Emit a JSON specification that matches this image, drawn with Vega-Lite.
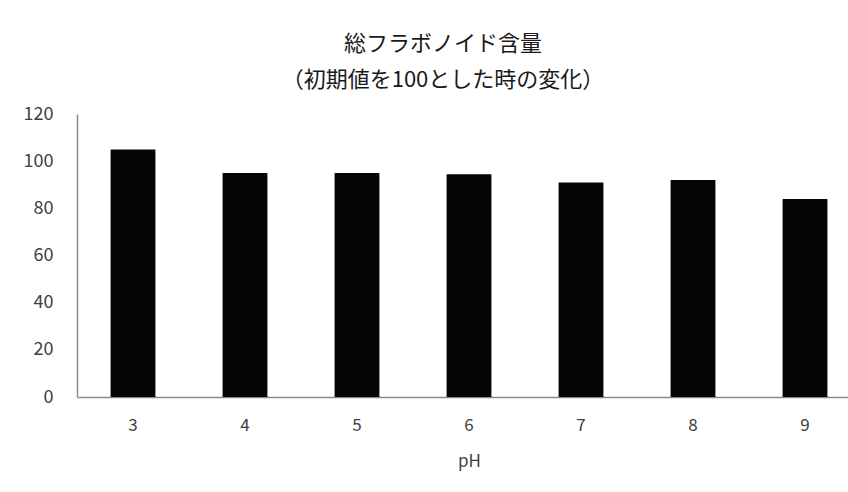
{
  "$schema": "https://vega.github.io/schema/vega-lite/v6.json",
  "autosize": {"type": "none"},
  "width": 784,
  "height": 283,
  "padding": {"left": 77, "top": 114, "right": 0, "bottom": 95},
  "background": "white",
  "title": {
    "text": ["総フラボノイド含量", "（初期値を100とした時の変化）"],
    "font": "Noto Sans CJK JP",
    "fontSize": 22,
    "fontWeight": "normal",
    "color": "#1a1a1a",
    "anchor": "middle",
    "dx": -26,
    "offset": 13,
    "lineHeight": 36
  },
  "data": {
    "values": [
      {"pH": "3", "value": 105},
      {"pH": "4", "value": 95},
      {"pH": "5", "value": 95},
      {"pH": "6", "value": 94.5},
      {"pH": "7", "value": 91},
      {"pH": "8", "value": 92},
      {"pH": "9", "value": 84}
    ]
  },
  "mark": {"type": "bar", "color": "#050505"},
  "encoding": {
    "x": {
      "field": "pH",
      "type": "ordinal",
      "sort": null,
      "scale": {"paddingInner": 0.6, "paddingOuter": 0.3},
      "axis": {
        "title": "pH",
        "labelAngle": 0,
        "labelFont": "Noto Sans CJK JP",
        "labelFontSize": 17,
        "labelColor": "#404040",
        "labelPadding": 20,
        "ticks": false,
        "domainColor": "#8c8c8c",
        "domainWidth": 1.5,
        "titleFont": "Noto Sans CJK JP",
        "titleFontSize": 17,
        "titleFontWeight": "normal",
        "titleColor": "#404040",
        "titlePadding": 20
      }
    },
    "y": {
      "field": "value",
      "type": "quantitative",
      "scale": {"domain": [0, 120]},
      "axis": {
        "title": null,
        "values": [0, 20, 40, 60, 80, 100, 120],
        "grid": false,
        "ticks": false,
        "labelFont": "Noto Sans CJK JP",
        "labelFontSize": 18,
        "labelColor": "#404040",
        "labelPadding": 24,
        "domainColor": "#8c8c8c",
        "domainWidth": 1.5
      }
    }
  },
  "config": {"view": {"stroke": null}}
}
